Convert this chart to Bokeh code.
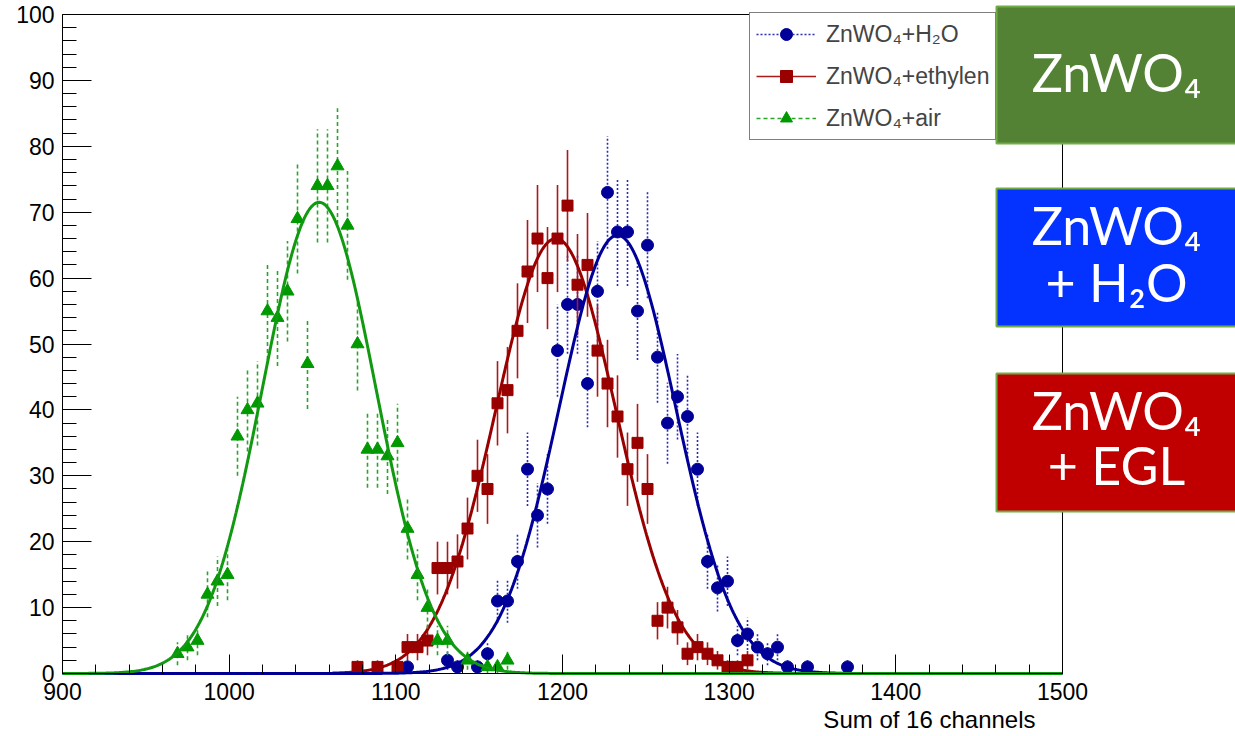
import numpy as np
from bokeh.plotting import figure
from bokeh.models import (Range1d, FixedTicker, Legend, LegendItem, BoxAnnotation, Label,
                          LinearAxis)
from bokeh.embed import file_html
from bokeh.resources import INLINE

# ---------------- data (bin centres of 6-unit bins, counts) ----------------
h2o_x = [1107, 1131, 1137, 1149, 1155, 1161, 1167, 1173, 1179, 1185, 1191, 1197,
         1203, 1209, 1215, 1221, 1227, 1233, 1239, 1245, 1251, 1257, 1263, 1269,
         1275, 1281, 1287, 1293, 1299, 1305, 1311, 1317, 1323, 1329, 1335, 1347, 1371]
h2o_y = [1, 2, 1, 1, 3, 11, 11, 17, 31, 24, 28, 49,
         56, 56, 44, 58, 73, 67, 67, 55, 65, 48, 38, 42,
         39, 31, 17, 13, 14, 5, 6, 4, 3, 4, 1, 1, 1]

egl_x = [1077, 1089, 1101, 1107, 1113, 1119, 1125, 1131, 1137, 1143, 1149, 1155,
         1161, 1167, 1173, 1179, 1185, 1191, 1197, 1203, 1209, 1215, 1221, 1227,
         1233, 1239, 1245, 1251, 1257, 1263, 1269, 1275, 1281, 1287, 1293, 1299,
         1305, 1311]
egl_y = [1, 1, 1, 4, 4, 5, 16, 16, 17, 22, 30, 28,
         41, 43, 52, 61, 66, 60, 66, 71, 59, 62, 49, 44,
         39, 31, 35, 28, 8, 10, 7, 3, 4, 3, 2, 1,
         1, 2]

air_x = [969, 975, 981, 987, 993, 999, 1005, 1011, 1017, 1023, 1029, 1035,
         1041, 1047, 1053, 1059, 1065, 1071, 1077, 1083, 1089, 1095, 1101, 1107,
         1113, 1119, 1125, 1131, 1143, 1155, 1161, 1167]
air_y = [3, 4, 5, 12, 14, 15, 36, 40, 41, 55, 54, 58,
         69, 47, 74, 74, 77, 68, 50, 34, 34, 33, 35, 22,
         15, 10, 5, 5, 2, 1, 1, 2]

# gaussian fit parameters (constant, mean, sigma) and fit ranges
h2o_fit = (66.5, 1233.0, 35.0, 900, 1500)
egl_fit = (66.0, 1196.0, 36.0, 1062, 1340)
air_fit = (71.5, 1054.0, 34.0, 900, 1500)

x_ticks = [900, 1000, 1100, 1200, 1300, 1400, 1500]
y_ticks = [0, 10, 20, 30, 40, 50, 60, 70, 80, 90, 100]

# the middle label is hidden behind the green box in the original, only this part shows
labels = ["ZnWO\u2084+H\u2082O", "ZnWO\u2084+ethylen", "ZnWO\u2084+air"]

# ---------------- figure ----------------
# the frame covers the whole canvas; the histogram frame (900..1500, 0..100)
# is drawn with axes at fixed locations so the boxes can overlap it
W, H = 1235, 736
X0, Y0 = 62, 673            # pixel position of (900, 0)
PX_X, PX_Y = 1000 / 600, 659 / 100
p = figure(frame_width=W, frame_height=H, output_backend="svg", toolbar_location=None,
           x_range=Range1d(900 - X0 / PX_X, 900 + (W - X0) / PX_X),
           y_range=Range1d(-(H - Y0) / PX_Y, Y0 / PX_Y),
           min_border_left=0, min_border_right=0, min_border_top=0, min_border_bottom=0)
p.title.visible = False
p.background_fill_color = "white"
p.border_fill_color = "white"
p.outline_line_color = None
p.xgrid.visible = False
p.ygrid.visible = False

p.xaxis.fixed_location = 0
p.yaxis.fixed_location = 900
p.xaxis.bounds = (900, 1500)
p.yaxis.bounds = (0, 100)
p.xaxis.ticker = FixedTicker(ticks=x_ticks, minor_ticks=list(range(900, 1501, 20)))
p.yaxis.ticker = FixedTicker(ticks=y_ticks, minor_ticks=list(range(0, 101, 2)))
for ax in (p.xaxis, p.yaxis):
    ax.axis_line_color = "black"
    ax.major_tick_line_color = "black"
    ax.minor_tick_line_color = "black"
    ax.major_tick_out = 0
    ax.minor_tick_out = 0
    ax.major_label_text_font = "Liberation Sans"
    ax.major_label_text_font_size = "23px"
    ax.major_label_text_color = "black"
p.xaxis.major_tick_in = 19
p.xaxis.minor_tick_in = 9
p.yaxis.major_tick_in = 29
p.yaxis.minor_tick_in = 14
p.xaxis.major_label_standoff = 9
p.yaxis.major_label_standoff = 8

# top and right edges of the histogram frame
top_edge = LinearAxis(fixed_location=100, bounds=(900, 1500), ticker=FixedTicker(ticks=[]),
                      major_tick_in=0, major_tick_out=0, minor_tick_in=0, minor_tick_out=0,
                      major_label_text_color=None, axis_line_color="black")
right_edge = LinearAxis(fixed_location=1500, bounds=(0, 100), ticker=FixedTicker(ticks=[]),
                        major_tick_in=0, major_tick_out=0, minor_tick_in=0, minor_tick_out=0,
                        major_label_text_color=None, axis_line_color="black")
p.add_layout(top_edge, "above")
p.add_layout(right_edge, "right")


def series(xs, ys, color, bar_color, dash, marker, size):
    xs = np.array(xs, dtype=float)
    ys = np.array(ys, dtype=float)
    err = np.sqrt(ys)
    seg = p.segment(x0=xs, y0=ys - err, x1=xs, y1=ys + err, line_color=bar_color,
                    line_width=1.6, line_dash=dash)
    sc = p.scatter(xs, ys, marker=marker, size=size, fill_color=color, line_color=color)
    return seg, sc


def fit(params, color):
    a, mu, sig, lo, hi = params
    xf = np.linspace(lo, hi, 600)
    yf = a * np.exp(-0.5 * ((xf - mu) / sig) ** 2)
    p.line(xf, yf, line_color=color, line_width=3)


seg_b, sc_b = series(h2o_x, h2o_y, "#000099", "#2b2bb8", "2 2", "circle", 12)
seg_r, sc_r = series(egl_x, egl_y, "#990000", "#aa1a1a", "solid", "square", 11)
fit(egl_fit, "#990000")
fit(h2o_fit, "#000099")
seg_g, sc_g = series(air_x, air_y, "#009900", "#2aa52a", "4 3", "triangle", 13)
fit(air_fit, "#119911")

legend = Legend(items=[LegendItem(label=labels[0], renderers=[seg_b, sc_b]),
                       LegendItem(label=labels[1], renderers=[seg_r, sc_r]),
                       LegendItem(label=labels[2], renderers=[seg_g, sc_g])],
                location=(749, 596))
legend.border_line_color = "black"
legend.border_line_width = 1
legend.background_fill_color = "white"
legend.background_fill_alpha = 1
legend.label_text_font = "Liberation Sans"
legend.label_text_font_size = "23px"
legend.glyph_width = 60
legend.glyph_height = 30
legend.label_standoff = 10
legend.spacing = 12
legend.padding = 6
legend.margin = 0
p.add_layout(legend)

# axis title, right aligned under the axis
p.add_layout(Label(x=1035, y=17, x_units="screen", y_units="screen", text="Sum of 16 channels",
                   text_font="Liberation Sans", text_font_size="24px", text_color="black",
                   text_align="right", text_baseline="middle"))

# coloured boxes on the right (screen units from the bottom-left of the canvas)
boxes = [("#548235", 730, 593), ("#0433ff", 548, 410), ("#c00000", 363, 225)]
for col, top, bot in boxes:
    p.add_layout(BoxAnnotation(left=996, right=1250, top=top, bottom=bot,
                               left_units="screen", right_units="screen",
                               top_units="screen", bottom_units="screen",
                               fill_color=col, fill_alpha=1, line_color="#70ad47",
                               line_width=2, line_alpha=1, level="overlay"))

box_texts = [("ZnWO\u2084", 665), ("ZnWO\u2084", 512), ("+ H\u2082O", 455),
             ("ZnWO\u2084", 327), ("+ EGL", 272)]
for t, yb in box_texts:
    p.add_layout(Label(x=1116, y=yb, x_units="screen", y_units="screen", text=t,
                       text_font="Lato", text_font_size="52px", text_color="white",
                       text_align="center", text_baseline="alphabetic", level="overlay"))

open("out.html", "w").write(file_html(p, INLINE))
